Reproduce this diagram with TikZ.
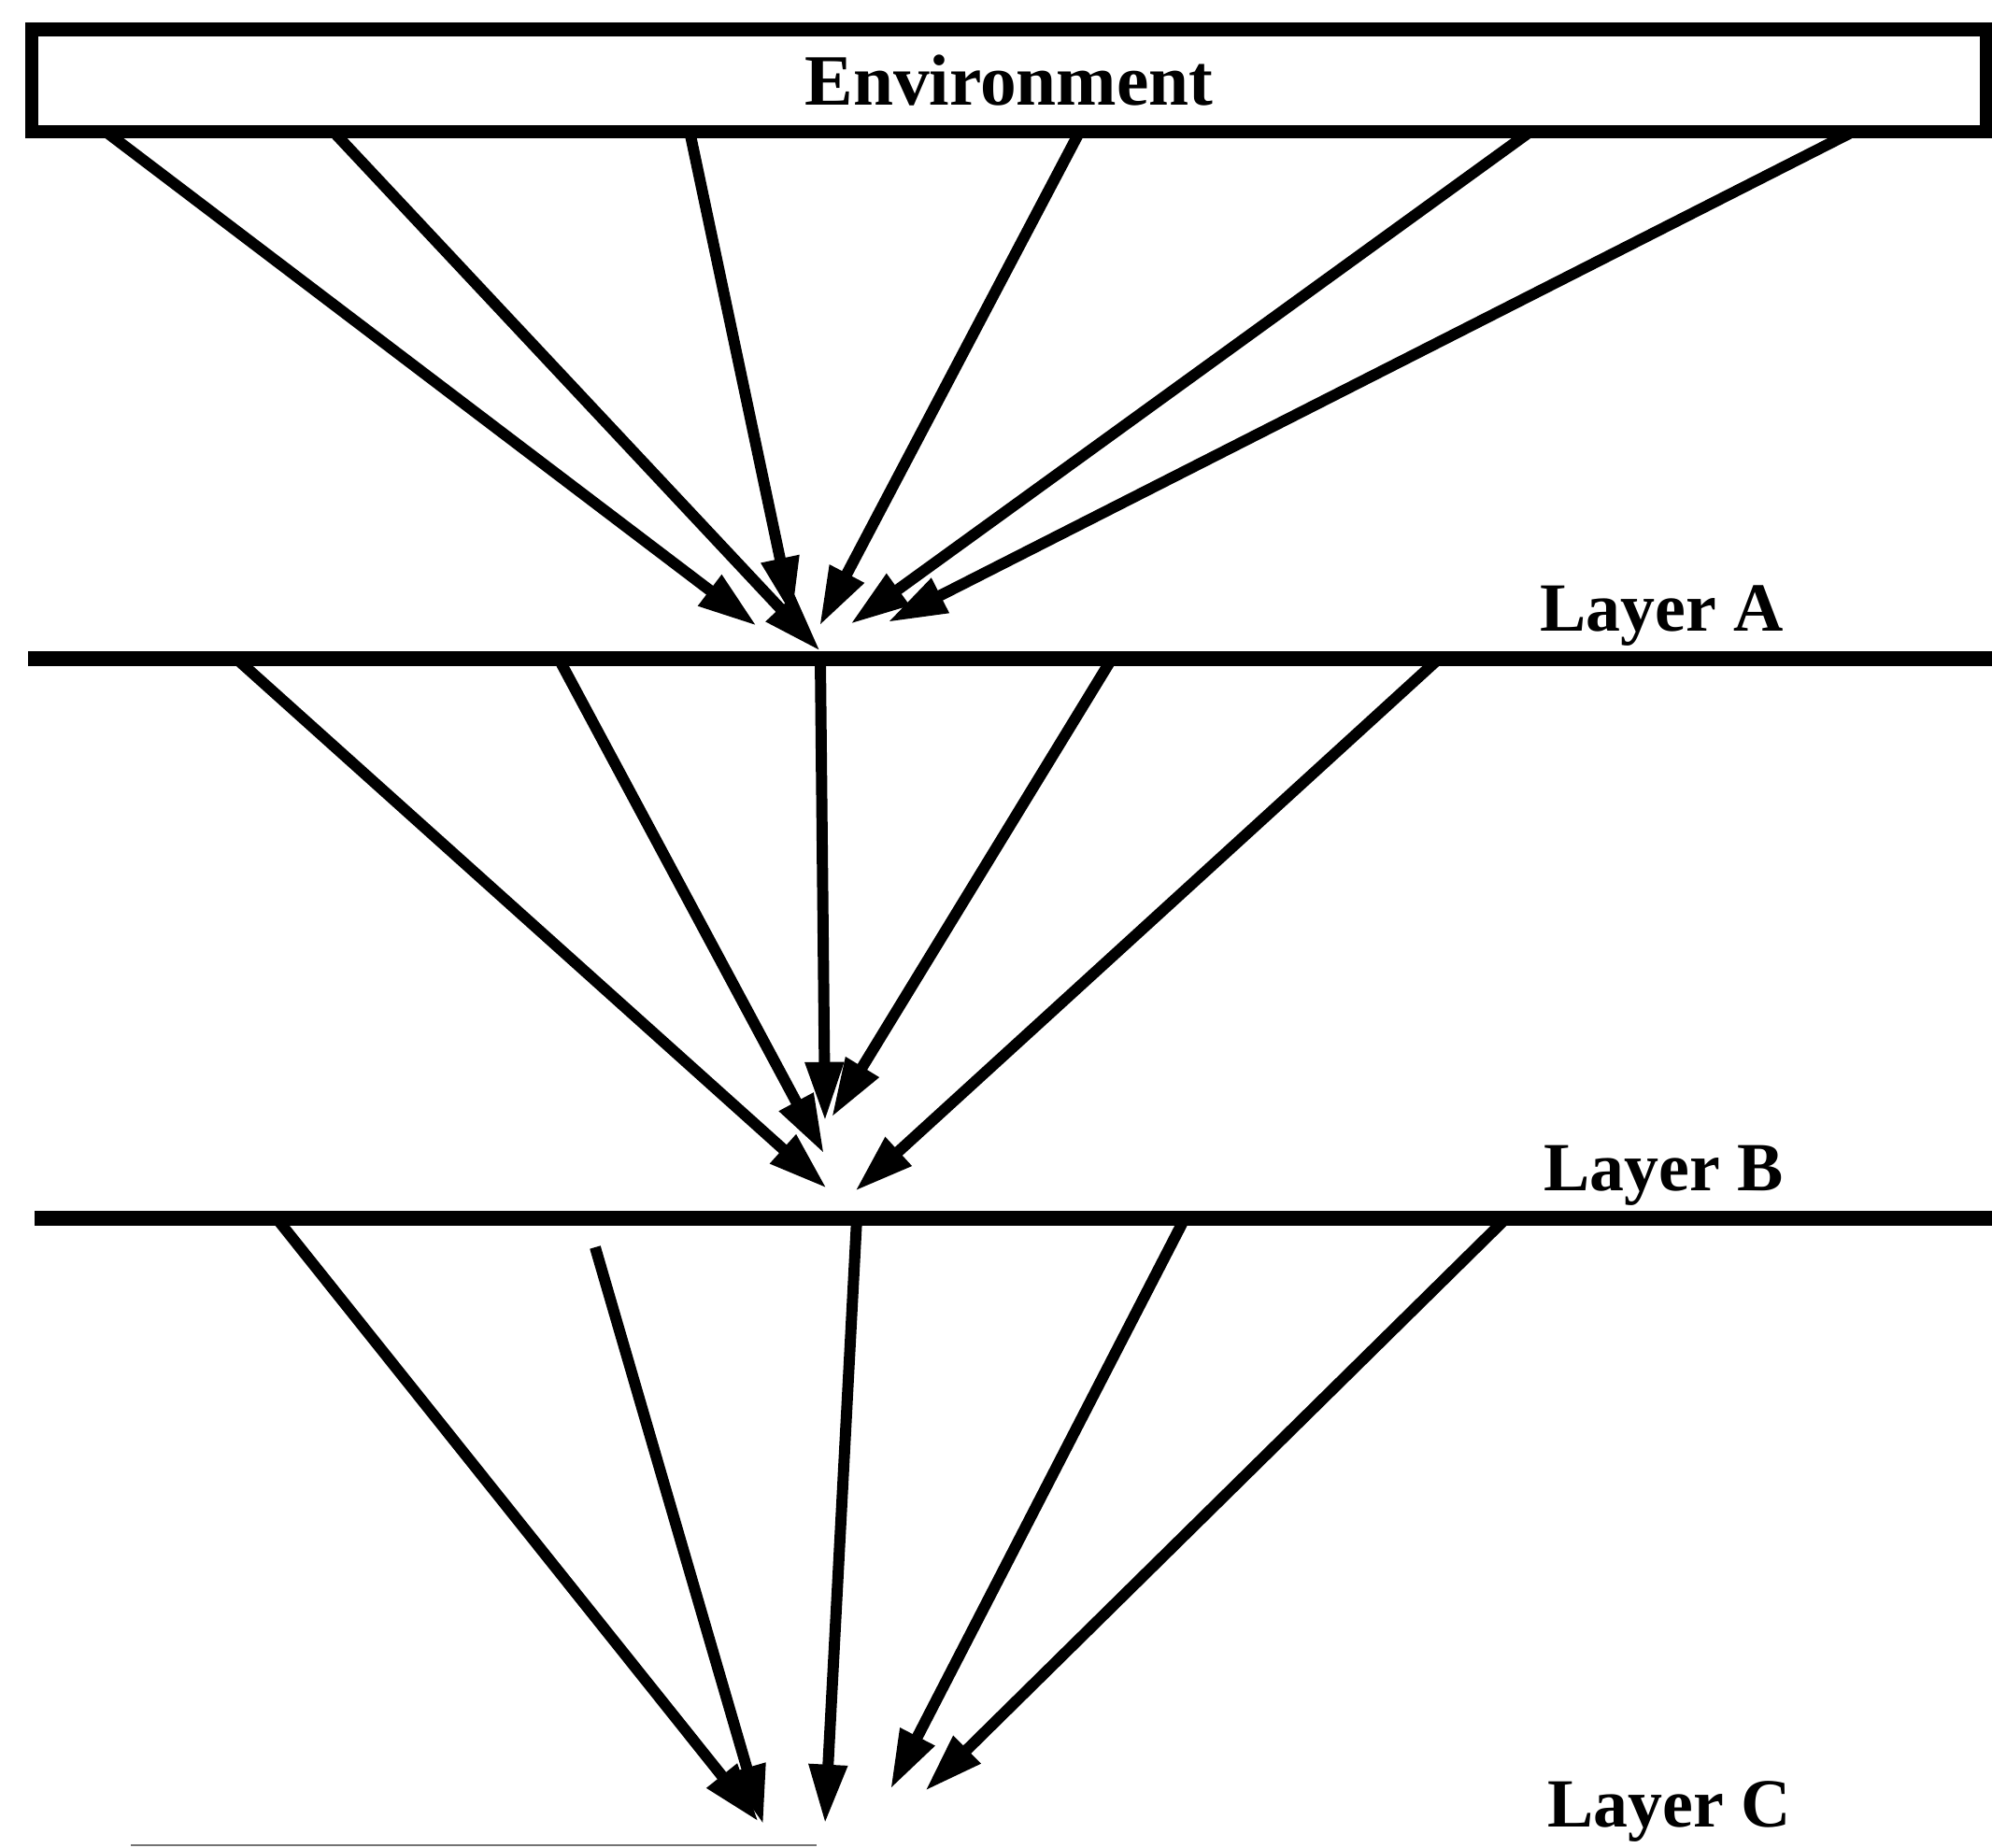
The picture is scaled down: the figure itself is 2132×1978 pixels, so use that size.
\documentclass[tikz,border=0pt]{standalone}
\usepackage{fontspec}
\setmainfont{Liberation Serif}
\usetikzlibrary{arrows.meta}
\tikzset{
  envbox/.style={rectangle, draw=black, line width=4pt, inner sep=0pt,
    minimum width=20.91cm, minimum height=1.09cm,
    font=\fontsize{22}{26}\selectfont\bfseries},
  layerlabel/.style={anchor=base west, inner sep=0pt,
    font=\fontsize{21}{25}\selectfont\bfseries},
  layerline/.style={draw=black, line width=4.5pt},
  arr/.style={-{Triangle[length=18pt, width=11pt]}, line width=3.4pt, draw=black},
  edgeline/.style={draw=black!55, line width=0.8pt},
}

\begin{document}
\begin{tikzpicture}[x=0.01cm, y=-0.01cm]
\useasboundingbox (0,0) rectangle (2132,1978);

\node (env) [envbox] at (1080,86) {Environment};

% layer lines
\coordinate (layA-w) at (30,705);
\coordinate (layA-e) at (2132,705);
\coordinate (layB-w) at (37,1304);
\coordinate (layB-e) at (2132,1304);
\coordinate (layC-w) at (140,1975);
\coordinate (layC-e) at (874,1975);

\draw[layerline] (layA-w) -- (layA-e);
\draw[layerline] (layB-w) -- (layB-e);
\draw[edgeline]  (layC-w) -- (layC-e);

\node (labA) [layerlabel] at (1648,675)  {Layer A};
\node (labB) [layerlabel] at (1652,1274) {Layer B};
\node (labC) [layerlabel] at (1656,1955) {Layer C};

% environment -> layer A
\coordinate (envout1) at (112,140);
\coordinate (envout2) at (356,140);
\coordinate (envout3) at (738,140);
\coordinate (envout4) at (1156,140);
\coordinate (envout5) at (1639,140);
\coordinate (envout6) at (1985,140);

\coordinate (ain1) at (810,670);
\coordinate (ain2) at (878,697);
\coordinate (ain3) at (848,660);
\coordinate (ain4) at (877,670);
\coordinate (ain5) at (910,668);
\coordinate (ain6) at (950,666);

\draw[arr] (envout1) -- (ain1);
\draw[arr] (envout2) -- (ain2);
\draw[arr] (envout3) -- (ain3);
\draw[arr] (envout4) -- (ain4);
\draw[arr] (envout5) -- (ain5);
\draw[arr] (envout6) -- (ain6);

% layer A -> layer B
\coordinate (aout1) at (253,705);
\coordinate (aout2) at (598,705);
\coordinate (aout3) at (878,705);
\coordinate (aout4) at (1190,705);
\coordinate (aout5) at (1540,705);

\coordinate (bin1) at (885,1272);
\coordinate (bin2) at (882,1235);
\coordinate (bin3) at (883,1200);
\coordinate (bin4) at (890,1196);
\coordinate (bin5) at (915,1275);

\draw[arr] (aout1) -- (bin1);
\draw[arr] (aout2) -- (bin2);
\draw[arr] (aout3) -- (bin3);
\draw[arr] (aout4) -- (bin4);
\draw[arr] (aout5) -- (bin5);

% layer B -> layer C
\coordinate (bout1) at (296,1304);
\coordinate (bout2) at (637,1335);
\coordinate (bout3) at (917,1304);
\coordinate (bout4) at (1268,1304);
\coordinate (bout5) at (1612,1304);

\coordinate (cin1) at (812,1950);
\coordinate (cin2) at (817,1953);
\coordinate (cin3) at (883,1952);
\coordinate (cin4) at (953,1915);
\coordinate (cin5) at (990,1917);

\draw[arr] (bout1) -- (cin1);
\draw[arr] (bout2) -- (cin2);
\draw[arr] (bout3) -- (cin3);
\draw[arr] (bout4) -- (cin4);
\draw[arr] (bout5) -- (cin5);

\end{tikzpicture}
\end{document}
